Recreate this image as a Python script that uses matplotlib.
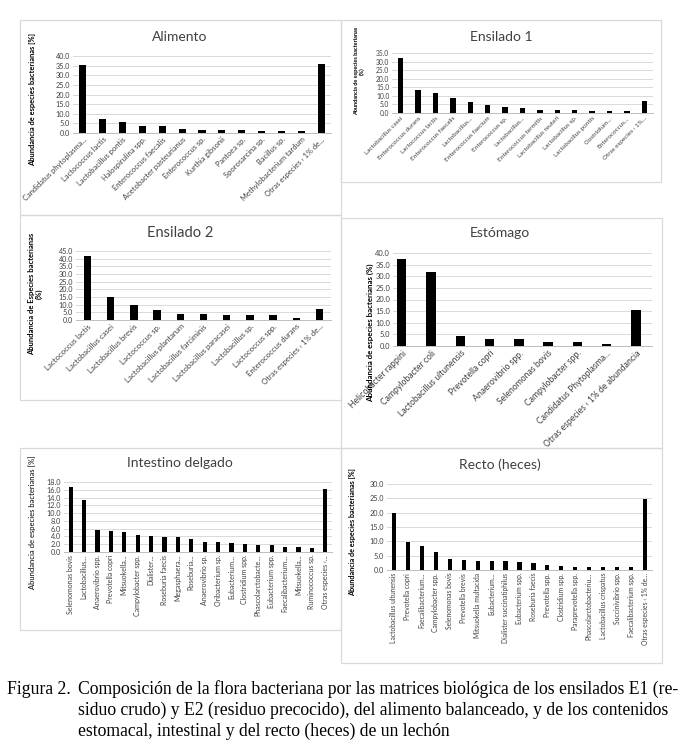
import numpy as np
import matplotlib
matplotlib.use('Agg')
import matplotlib.pyplot as plt
from matplotlib.patches import Rectangle
from matplotlib.transforms import Bbox, TransformedBbox

# ---------------- data ----------------
alimento_labels = ["Candidatus phytoplasma...", "Lactococcus lactis", "Lactobacillus pontis",
                   "Halospirulina spp.", "Enterococcus faecalis", "Acetobacter pasteurianus",
                   "Enterococcus sp.", "Kurthia gibsonii", "Pantoea sp.", "Sporosarcina sp.",
                   "Bacillus sp.", "Methylobacterium tardum", "Otras especies ‹ 1% de..."]
alimento_values = [35.5, 7.3, 5.5, 3.6, 3.6, 2.0, 1.7, 1.3, 1.3, 1.1, 1.1, 1.1, 35.8]

ensilado1_labels = ["Lactobacillus casei", "Enterococcus durans", "Lactococcus lactis",
                    "Enterococcus faecalis", "Lactobacillus...", "Enterococcus faecium",
                    "Enterococcus sp.", "Lactobacillus...", "Enterococcus termitis",
                    "Lactobacillus reuteri", "Lactobacillus sp.", "Lactobacillus pontis",
                    "Clostridium...", "Enterococcus...", "Otras especies ‹ 1%..."]
ensilado1_values = [32.0, 13.2, 11.5, 8.7, 6.7, 4.4, 3.5, 3.1, 2.0, 1.5, 1.5, 1.1, 1.1, 0.9, 7.0]

ensilado2_labels = ["Lactococcus lactis", "Lactobacillus casei", "Lactobacillus brevis",
                    "Lactococcus sp.", "Lactobacillus plantarum", "Lactobacillus farciminis",
                    "Lactobacillus paracasei", "Lactobacillus sp.", "Lactococcus spp.",
                    "Enterococcus durans", "Otras especies ‹ 1% de..."]
ensilado2_values = [41.5, 15.2, 9.6, 6.2, 4.2, 3.7, 3.5, 3.0, 3.0, 1.6, 7.1]

estomago_labels = ["Helicobacter rappini", "Campylobacter coli", "Lactobacillus ultunensis",
                   "Prevotella copri", "Anaerovibrio spp.", "Selenomonas bovis",
                   "Campylobacter spp.", "Candidatus Phytoplasma...",
                   "Otras especies ‹ 1% de abundancia"]
estomago_values = [37.3, 31.8, 4.3, 3.1, 2.9, 1.6, 1.6, 0.8, 15.3]

intestino_labels = ["Selenomonas bovis", "Lactobacillus...", "Anaerovibrio spp.", "Prevotella copri",
                    "Mitsuokella...", "Campylobacter spp.", "Dialister...", "Roseburia faecis",
                    "Megasphaera...", "Roseburia...", "Anaerovibrio sp.", "Oribacterium sp.",
                    "Eubacterium...", "Clostridium spp.", "Phascolarctobacte...", "Eubacterium spp.",
                    "Faecalibacterium...", "Mitsuokella...", "Ruminococcus sp.", "Otras especies ‹..."]
intestino_values = [16.7, 13.4, 5.6, 5.4, 5.1, 4.4, 4.1, 3.9, 3.8, 3.4, 2.6, 2.5, 2.2, 2.1,
                    1.9, 1.7, 1.4, 1.4, 1.1, 16.2]

recto_labels = ["Lactobacillus ultunensis", "Prevotella copri", "Faecalibacterium...",
                "Campylobacter spp.", "Selenomonas bovis", "Prevotella brevis",
                "Mitsuokella multacida", "Eubacterium...", "Dialister succinatiphilus",
                "Eubacterium spp.", "Roseburia faecis", "Prevotella spp.", "Clostridium spp.",
                "Paraprevotella spp.", "Phascolarctobacteriu...", "Lactobacillus crispatus",
                "Succinivibrio spp.", "Faecalibacterium spp.", "Otras especies ‹ 1% de..."]
recto_values = [20.0, 9.7, 8.2, 6.4, 3.9, 3.4, 3.1, 3.0, 3.0, 2.7, 2.4, 1.6, 1.3, 1.2,
                1.0, 1.0, 1.0, 0.9, 24.6]

caption_head = "Figura 2."
caption_lines = ["Composición de la flora bacteriana por las matrices biológica de los ensilados E1 (re-",
                 "siduo crudo) y E2 (residuo precocido), del alimento balanceado, y de los contenidos",
                 "estomacal, intestinal y del recto (heces) de un lechón"]

# ---------------- layout ----------------
W, H = 687, 749
plt.rcParams['font.family'] = ['Lato', 'DejaVu Sans']
fig = plt.figure(figsize=(W / 100, H / 100), dpi=100)
fig.patch.set_facecolor('white')


def fx(x):
    return x / W


def fy(y):
    return 1 - y / H


GRID = '#d9d9d9'
TXT = '#404040'


def panel(box, axpx, title, title_xy, labels, values, ymax, ystep, ylabel, ylabel_xy,
          ylabel_bold, ylabel_size, rot, xt_size, bar_w, title_size=10, yt_size=5.2,
          xpad=(0.5, 0.5)):
    x0, y0, x1, y1 = box
    rect = Rectangle((fx(x0), fy(y1)), (x1 - x0) / W, (y1 - y0) / H, transform=fig.transFigure,
                     fill=False, edgecolor=GRID, lw=0.9, zorder=1)
    fig.add_artist(rect)
    al, ar, at, ab = axpx
    ax = fig.add_axes([fx(al), fy(ab), (ar - al) / W, (ab - at) / H])
    ax.patch.set_alpha(0)
    x = np.arange(len(values))
    ax.bar(x, values, width=bar_w, color='black', zorder=3)
    ax.set_xlim(-xpad[0], len(values) - 1 + xpad[1])
    ax.set_ylim(0, ymax)
    yt = np.arange(0, ymax + 0.001, ystep)
    ax.set_yticks(yt)
    ax.set_yticklabels([f"{v:.1f}" for v in yt], fontsize=yt_size, color=TXT)
    ax.grid(axis='y', color=GRID, lw=0.7)
    ax.set_axisbelow(True)
    for s in ['top', 'right', 'left']:
        ax.spines[s].set_visible(False)
    ax.spines['bottom'].set_color('#bfbfbf')
    ax.spines['bottom'].set_linewidth(0.7)
    ax.tick_params(length=0, pad=2)
    ax.set_xticks(x)
    if rot == 45:
        ax.set_xticklabels(labels, rotation=45, ha='right', va='top', rotation_mode='anchor',
                           fontsize=xt_size, color=TXT)
    else:
        ax.set_xticklabels(labels, rotation=90, ha='center', va='top', fontsize=xt_size, color=TXT)
    clip = TransformedBbox(Bbox.from_extents(fx(x0), fy(y1), fx(x1), fy(y0)), fig.transFigure)
    for lab in ax.get_xticklabels():
        lab.set_clip_on(True)
        lab.set_clip_box(clip)
    fig.text(fx(title_xy[0]), fy(title_xy[1]), title, ha='center', va='center',
             fontsize=title_size, color=TXT)
    fig.text(fx(ylabel_xy[0]), fy(ylabel_xy[1]), ylabel, ha='center', va='center', rotation=90,
             fontsize=ylabel_size, fontweight='bold' if ylabel_bold else 'normal',
             color='black', linespacing=1.1, multialignment='center')
    return ax


panel((20, 20, 341, 215), (73, 331, 56, 133), "Alimento", (180, 37),
      alimento_labels, alimento_values, 40, 5,
      "Abundancia de especies bacterianas [%]", (33, 100), True, 5.4, 45, 5.4, 0.36)

panel((341, 20, 661, 182), (392, 653, 53, 113), "Ensilado 1", (501, 37),
      ensilado1_labels, ensilado1_values, 35, 5,
      "Abundancia de especies bacterianas\n(%)", (359, 71), True, 4.0, 45, 4.6, 0.3,
      yt_size=4.8)

panel((20, 215, 341, 400), (76, 331, 251, 320), "Ensilado 2", (180, 233),
      ensilado2_labels, ensilado2_values, 45, 5,
      "Abundancia de Especies bacterianas\n(%)", (35, 294), True, 5.5, 45, 5.6, 0.32,
      title_size=10.5)

panel((341, 218, 662, 448), (393, 652, 253, 346), "Estómago", (500, 233),
      estomago_labels, estomago_values, 40, 5,
      "Abundancia de especies bacterianas (%)", (370, 333), True, 5.7, 45, 6.2, 0.32,
      yt_size=5.4, xpad=(0.3, 0.55))

panel((20, 448, 341, 630), (64, 332, 482, 552), "Intestino delgado", (180, 463),
      intestino_labels, intestino_values, 18, 2,
      "Abundancia de especies bacterianas [%]", (32, 522), False, 5.5, 90, 5.0, 0.3)

panel((341, 448, 662, 663), (387, 652, 484, 570), "Recto (heces)", (500, 465),
      recto_labels, recto_values, 30, 5,
      "Abundancia de especies bacterianas [%]", (353, 532), True, 5.2, 90, 4.9, 0.3)

# ---------------- caption ----------------
cap_font = ['Liberation Serif', 'DejaVu Serif']
head = fig.text(fx(7), fy(689), caption_head, ha='left', va='center', fontsize=12, family=cap_font)
t1 = fig.text(fx(78), fy(689), caption_lines[0], ha='left', va='center', fontsize=12, family=cap_font)
fig.canvas.draw()
r = fig.canvas.get_renderer()
wpx = t1.get_window_extent(r).width
fs = 12 * 602 / wpx
t1.set_fontsize(fs)
head.set_fontsize(fs)
fig.text(fx(78), fy(710), caption_lines[1], ha='left', va='center', fontsize=fs, family=cap_font)
fig.text(fx(78), fy(731), caption_lines[2], ha='left', va='center', fontsize=fs, family=cap_font)

fig.savefig('out.png', dpi=100, facecolor='white')
